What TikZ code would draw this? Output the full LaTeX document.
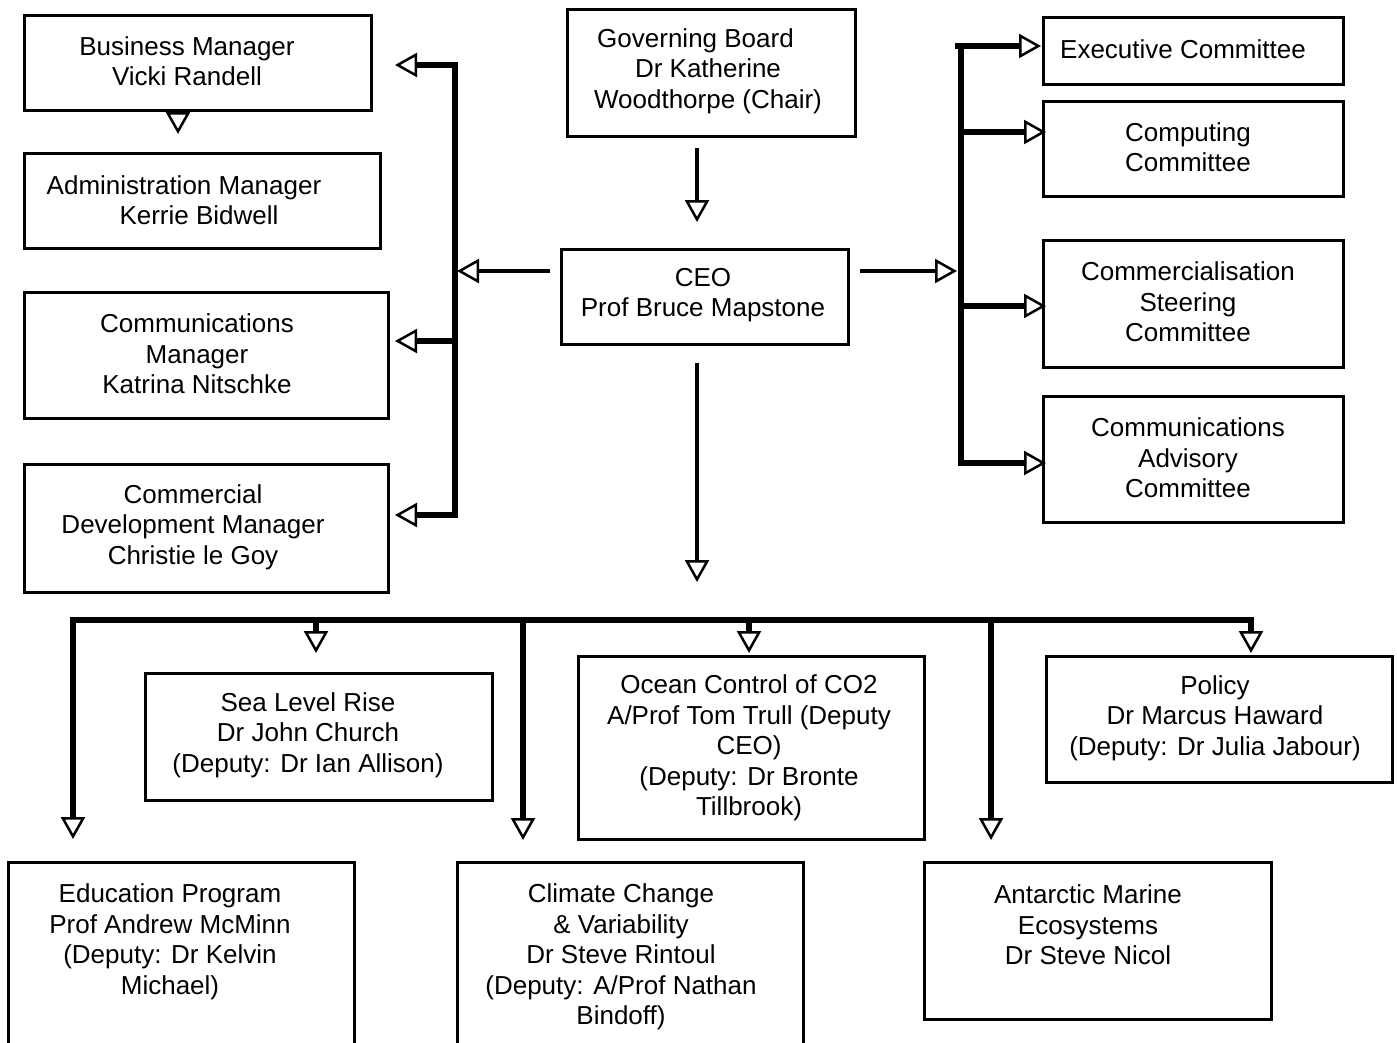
\documentclass[tikz,border=0pt]{standalone}
\usepackage{fontspec}
\setmainfont{Liberation Sans}
\usetikzlibrary{arrows.meta}
\tikzset{
  box/.style={draw, line width=2.5pt, inner sep=0pt, anchor=north west, fill=white},
  txt/.style={align=center, inner sep=0pt, font=\fontsize{26}{30.5}\selectfont},
  bus/.style={line width=5.5pt},
  thin/.style={line width=3.5pt},
  arr/.style={-{Triangle[open,length=22pt,width=24pt,line width=2.5pt]}},
  arrb/.style={{Triangle[open,length=22pt,width=24pt,line width=2.5pt]}-{Triangle[open,length=22pt,width=24pt,line width=2.5pt]}}
}
\begin{document}
\begin{tikzpicture}[x=1pt,y=-1pt]
\useasboundingbox (0,0) rectangle (1397,1042);
\clip (0,0) rectangle (1397,1042);
\fill[white] (0,0) rectangle (1397,1042);

% ---------- boxes ----------
\node[box, minimum width=347pt, minimum height=95pt] (bm) at (23,14) {};
\node[box, minimum width=356pt, minimum height=95pt] (am) at (23,152) {};
\node[box, minimum width=364pt, minimum height=126pt] (cm) at (23,291) {};
\node[box, minimum width=364pt, minimum height=128pt] (cd) at (23,463) {};
\node[box, minimum width=288pt, minimum height=127pt] (gb) at (566,8) {};
\node[box, minimum width=287pt, minimum height=95pt] (ceo) at (560,248) {};
\node[box, minimum width=300pt, minimum height=67pt] (ec) at (1042,16) {};
\node[box, minimum width=300pt, minimum height=95pt] (cc) at (1042,100) {};
\node[box, minimum width=300pt, minimum height=127pt] (cs) at (1042,239) {};
\node[box, minimum width=300pt, minimum height=126pt] (ca) at (1042,395) {};
\node[box, minimum width=347pt, minimum height=127pt] (sl) at (144,672) {};
\node[box, minimum width=346pt, minimum height=183pt] (oc) at (577,655) {};
\node[box, minimum width=346pt, minimum height=126pt] (po) at (1045,655) {};
\node[box, minimum width=346pt, minimum height=200pt] (ed) at (7,861) {};
\node[box, minimum width=346pt, minimum height=200pt] (cl) at (456,861) {};
\node[box, minimum width=347pt, minimum height=157pt] (an) at (923,861) {};

% ---------- texts ----------
\node[txt] (bmt) at (187,61) {Business Manager\\Vicki Randell};
\node[txt] (amt) at (184,200) {Administration Manager\\\hspace*{30pt}Kerrie Bidwell};
\node[txt] (cmt) at (197,354) {Communications\\Manager\\Katrina Nitschke};
\node[txt] (cdt) at (193,527) {Commercial\\Development Manager\\Christie le Goy};
\node[txt] (gbt) at (708,71) {Governing Board\hspace*{25pt}\\Dr Katherine\\Woodthorpe (Chair)};
\node[txt] (ceot) at (703,295) {CEO\\Prof Bruce Mapstone};
\node[txt] (ect) at (1183,49) {Executive Committee};
\node[txt] (cct) at (1188,147) {Computing\\Committee};
\node[txt] (cst) at (1188,302) {Commercialisation\\Steering\\Committee};
\node[txt] (cat) at (1188,458) {Communications\\Advisory\\Committee};
\node[txt] (slt) at (308,735) {Sea Level Rise\\Dr John Church\\(Deputy: Dr Ian Allison)};
\node[txt] (oct) at (749,748) {Ocean Control of CO2\\A/Prof Tom Trull (Deputy\\CEO)\\(Deputy: Dr Bronte\\Tillbrook)};
\node[txt] (pot) at (1215,718) {Policy\\Dr Marcus Haward\\(Deputy: Dr Julia Jabour)};
\node[txt] (edt) at (170,942) {Education Program\\Prof Andrew McMinn\\(Deputy: Dr Kelvin\\Michael)};
\node[txt] (clt) at (621,957) {Climate Change\\\& Variability\\Dr Steve Rintoul\\(Deputy: A/Prof Nathan\\Bindoff)};
\node[txt] (ant) at (1088,925) {Antarctic Marine\\Ecosystems\\Dr Steve Nicol};

% ---------- coordinates ----------
\coordinate (bmA) at (178,134);
\coordinate (lbT) at (455,65);
\coordinate (lbM) at (455,341);
\coordinate (lbB) at (455,515);
\coordinate (tBM) at (395,65);
\coordinate (tCM) at (395,341);
\coordinate (tCD) at (395,515);
\coordinate (ceoL) at (550,271);
\coordinate (ceoLt) at (457,271);
\coordinate (gbB) at (697,148);
\coordinate (gbT) at (697,222);
\coordinate (ceoR) at (860,271);
\coordinate (ceoRt) at (957,271);
\coordinate (rbT0) at (955,46);
\coordinate (rbT) at (961,46);
\coordinate (rb2) at (961,132);
\coordinate (rb3) at (961,306);
\coordinate (rbB) at (961,463);
\coordinate (tEC) at (1041,46);
\coordinate (tCC) at (1046,132);
\coordinate (tCS) at (1046,306);
\coordinate (tCA) at (1046,463);
\coordinate (ceoD) at (697,363);
\coordinate (ceoDt) at (697,582);
\coordinate (bb1) at (73,620);
\coordinate (bb2) at (316,620);
\coordinate (bb3) at (523,620);
\coordinate (bb4) at (749,620);
\coordinate (bb5) at (991,620);
\coordinate (bb6) at (1251,620);
\coordinate (tED) at (73,839);
\coordinate (tSL) at (316,653);
\coordinate (tCL) at (523,840);
\coordinate (tOC) at (749,653);
\coordinate (tAN) at (991,840);
\coordinate (tPO) at (1251,653);

% ---------- connectors ----------
\draw[thin, arr] (bm.south -| bmA) -- (bmA);
\draw[bus, arrb] (tBM) -- (lbT) -- (lbB) -- (tCD);
\draw[bus, arr] (lbM) -- (tCM);
\draw[thin, arr] (ceoL) -- (ceoLt);
\draw[thin, arr] (gbB) -- (gbT);
\draw[thin, arr] (ceoR) -- (ceoRt);
\draw[bus, arr] (rbT0) -- (tEC);
\draw[bus, arr] (rbT) -- (rbB) -- (tCA);
\draw[bus, arr] (rb2) -- (tCC);
\draw[bus, arr] (rb3) -- (tCS);
\draw[thin, arr] (ceoD) -- (ceoDt);
\draw[bus, arrb] (tED) -- (bb1) -- (bb6) -- (tPO);
\draw[bus, arr] (bb2) -- (tSL);
\draw[bus, arr] (bb3) -- (tCL);
\draw[bus, arr] (bb4) -- (tOC);
\draw[bus, arr] (bb5) -- (tAN);
\end{tikzpicture}
\end{document}
